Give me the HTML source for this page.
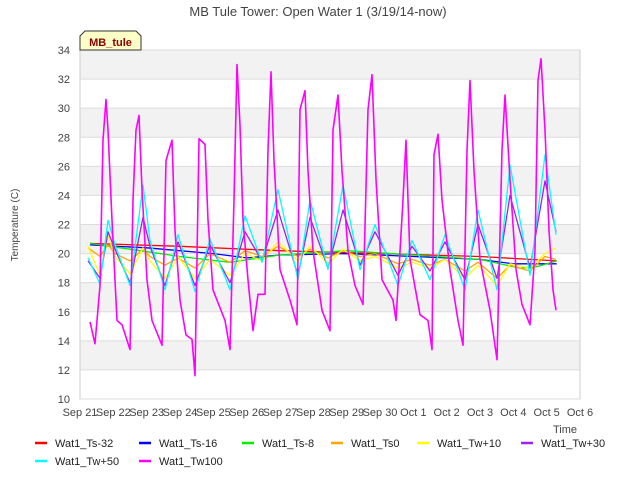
<!DOCTYPE html>
<html><head><meta charset="utf-8"><style>
body{margin:0;background:#fff;font-family:"Liberation Sans",sans-serif}
svg text{font-family:"Liberation Sans",sans-serif}
</style></head><body>
<svg id="c" width="640" height="480">
<rect width="640" height="480" fill="#fff"/>
<text x="318" y="16" text-anchor="middle" font-size="13" fill="#444">MB Tule Tower: Open Water 1 (3/19/14-now)</text>
<g id="bands"></g>
<rect x="80" y="50" width="500" height="349" fill="none" stroke="#ccc"/>
<g id="ticks"></g>
<g id="series"></g>
<text x="18" y="225" transform="rotate(-90 18 225)" text-anchor="middle" font-size="10" fill="#444">Temperature (C)</text>
<text x="553" y="433" font-size="11" fill="#444">Time</text>
<rect x="0" y="434" width="640" height="46" fill="#fff"/>
<g>
<path d="M80,50 L80,36 L85,31 L136,31 L141,36 L141,50 Z" fill="#ffffc8" stroke="#333"/>
<text x="110.5" y="46" text-anchor="middle" font-size="11" font-weight="bold" fill="#8b0000">MB_tule</text>
</g>
<g id="legend"></g>
</svg>
<script>
const yTicks=[10,12,14,16,18,20,22,24,26,28,30,32,34];
const xTickLabels=["Sep 21","Sep 22","Sep 23","Sep 24","Sep 25","Sep 26","Sep 27","Sep 28","Sep 29","Sep 30","Oct 1","Oct 2","Oct 3","Oct 4","Oct 5","Oct 6"];
const seriesNames=["Wat1_Ts-32","Wat1_Ts-16","Wat1_Ts-8","Wat1_Ts0","Wat1_Tw+10","Wat1_Tw+30","Wat1_Tw+50","Wat1_Tw100"];
const seriesColors=["#ff0000","#0000ff","#00ee00","#ffa500","#ffff00","#a020f0","#00ffff","#ff00ff"];
// times in days since Sep 21
const tRed=[0.3,3,6,9,12,14.3];
const vRed=[20.7,20.5,20.2,20.0,19.8,19.5];
const tBlue=[0.3,2,4,5,6,8,10,12,13,14.3];
const vBlue=[20.6,20.4,20.0,19.7,19.9,20.0,19.8,19.6,19.3,19.3];
const tGreen=[0.3,1.5,3,4.5,6,8,10,12,12.8,13.2,13.7,14.3];
const vGreen=[20.7,20.3,19.8,19.4,19.9,20.2,19.9,19.6,19.2,19.0,19.1,19.5];
const tMid=[0.24,0.60,0.84,1.05,1.50,1.89,2.10,2.55,2.94,3.45,3.90,4.50,4.95,5.46,5.94,6.54,6.90,7.44,7.89,8.40,8.85,9.54,9.96,10.50,10.95,11.55,11.94,12.51,12.90,13.50,13.95,14.28];
const vOrange=[20.4,19.8,20.6,20.0,19.5,20.3,19.8,19.2,19.7,19.0,20.0,19.4,20.2,19.8,20.5,19.8,20.3,19.7,20.2,19.8,20.0,19.3,19.6,19.2,19.6,18.8,19.4,18.3,19.2,18.8,19.8,19.6];
const vYellow=[20.5,18.5,21.2,19.8,18.6,20.4,19.5,18.3,19.8,18.3,19.6,18.5,20.0,19.5,20.8,19.5,20.5,19.3,20.3,19.5,19.8,19.0,19.4,19.0,19.6,18.3,19.2,17.8,19.3,19.0,20.0,20.4];
const vPurple=[19.5,18.3,21.5,20.3,18.0,22.5,20.5,17.8,20.8,17.8,20.6,18.0,21.5,19.5,23.0,18.5,22.5,19.0,23.0,19.2,21.5,18.5,20.5,18.8,20.8,18.2,22.0,18.3,24.0,19.0,25.0,21.5];
const vTw50=[19.7,17.9,22.3,20.6,17.8,24.7,20.9,17.5,21.3,17.4,21.0,17.5,22.6,19.4,24.4,18.2,23.7,18.9,24.7,18.9,22.0,17.8,20.9,18.2,21.3,17.5,23.0,17.5,26.1,18.5,26.8,21.3];
const tTw100=[0.30,0.45,0.60,0.69,0.78,0.84,0.96,1.11,1.26,1.50,1.59,1.68,1.77,1.86,2.01,2.16,2.46,2.58,2.76,2.85,3.00,3.18,3.36,3.45,3.57,3.75,3.84,3.99,4.35,4.50,4.62,4.71,4.80,4.89,5.04,5.19,5.34,5.55,5.64,5.73,5.82,6.00,6.30,6.51,6.60,6.75,6.84,6.99,7.26,7.50,7.59,7.74,7.86,8.04,8.25,8.49,8.64,8.76,8.88,9.06,9.39,9.48,9.69,9.78,9.90,10.20,10.44,10.56,10.62,10.74,10.86,11.10,11.34,11.49,11.61,11.70,11.82,12.00,12.30,12.51,12.66,12.75,12.90,13.08,13.26,13.50,13.65,13.74,13.83,13.95,14.07,14.19,14.28];
const vTw100=[15.3,13.8,17.8,27.8,30.6,28.5,22.3,15.4,15.1,13.4,23.7,28.5,29.5,24.4,18.2,15.4,13.7,26.4,27.8,21.6,16.8,14.4,14.1,11.6,27.9,27.5,22.3,17.5,15.4,13.4,23.7,33.0,28.8,22.3,18.2,14.7,17.2,17.2,27.1,32.5,26.4,18.9,16.8,15.1,29.9,31.2,25.7,20.2,16.1,14.7,28.5,30.9,25.7,20.2,17.8,16.5,29.9,32.3,25.1,18.2,16.8,15.4,23.7,27.8,19.6,15.8,15.4,13.4,26.8,28.2,23.7,18.9,15.4,13.7,27.1,31.9,25.7,19.6,16.1,12.7,27.1,30.9,25.1,18.9,16.5,15.1,20.2,31.9,33.4,28.5,21.6,17.5,16.1];
const tArrs=[tRed,tBlue,tGreen,tMid,tMid,tMid,tMid,tTw100];
const vArrs=[vRed,vBlue,vGreen,vOrange,vYellow,vPurple,vTw50,vTw100];

const NS="http://www.w3.org/2000/svg";
const X0=80,X1=580,Y0=399,Y1=50;
const xs=d=>X0+(d/15)*(X1-X0);
const ys=v=>Y0-(v-10)/24*(Y0-Y1);
function mk(tag,attrs,parent){const e=document.createElementNS(NS,tag);for(const k in attrs)e.setAttribute(k,attrs[k]);parent.appendChild(e);return e;}
const bands=document.getElementById('bands');
for(let v=10;v<34;v+=2){
  const grey=((v-10)/2)%2===1;
  const r=mk('rect',{x:X0,y:ys(v+2),width:X1-X0,height:ys(v)-ys(v+2),fill:grey?'#f2f2f2':'#ffffff'},bands);
  
  
}
const ticks=document.getElementById('ticks');
yTicks.forEach(v=>{
  const l=mk('line',{x1:X0,x2:X1,y1:ys(v),y2:ys(v),stroke:'#dcdcdc'},ticks);
  
  
  const t=mk('text',{x:X0-10,y:ys(v)+4,'text-anchor':'end','font-size':'11',fill:'#444'},ticks);
  t.textContent=v;
  
  
});
xTickLabels.forEach((s,i)=>{
  const t=mk('text',{x:xs(i),y:416,'text-anchor':'middle','font-size':'11',fill:'#444'},ticks);
  t.textContent=s;
  
  
});
const sg=document.getElementById('series');
for(let k=0;k<8;k++){
  const pts=tArrs[k].map((t,i)=>xs(t).toFixed(1)+','+ys(vArrs[k][i]).toFixed(1)).join(' ');
  const p=mk('polyline',{points:pts,fill:'none',stroke:seriesColors[k],'stroke-width':k===7?1.6:1.3,'stroke-linejoin':'round'},sg);
  
  
}
const lg=document.getElementById('legend');
const lx=[35,139,242,331,417,521,35,139],ly=[443,443,443,443,443,443,461,461];
for(let k=0;k<8;k++){
  const g=mk('g',{},lg);
  
  
  mk('line',{x1:lx[k],x2:lx[k]+12,y1:ly[k],y2:ly[k],stroke:seriesColors[k],'stroke-width':2.5},g);
  const t=mk('text',{x:lx[k]+20,y:ly[k]+4,'font-size':'11',fill:'#222'},g);
  t.textContent=seriesNames[k];
}
</script>
</body></html>
